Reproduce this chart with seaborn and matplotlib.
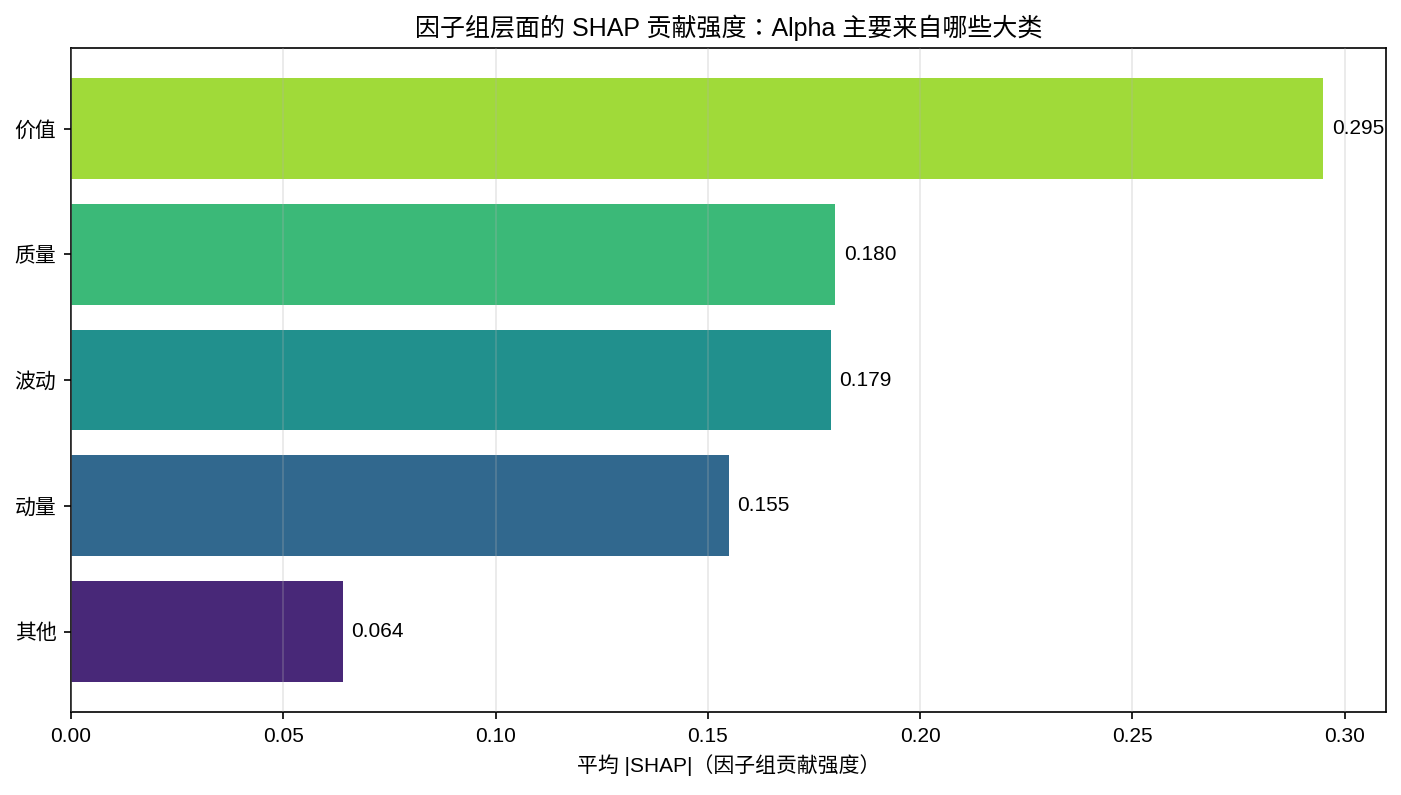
import matplotlib
matplotlib.use("Agg")
import matplotlib.pyplot as plt
import seaborn as sns
import pandas as pd

plt.rcParams['font.family'] = ['Liberation Sans', 'Noto Sans CJK TC', 'DejaVu Sans']
plt.rcParams['axes.unicode_minus'] = False

groups = ["价值", "质量", "波动", "动量", "其他"]
values = [0.295, 0.180, 0.179, 0.155, 0.064]
colors = ["#a0da39", "#3bb978", "#21908d", "#31688e", "#482878"]

df = pd.DataFrame({"group": groups, "value": values})

DPI = 150
fig, ax = plt.subplots(figsize=(1401 / DPI, 795 / DPI), dpi=DPI)
sns.barplot(data=df, x="value", y="group", hue="group", palette=colors,
            legend=False, orient="h", width=0.8, saturation=1, ax=ax)

n = len(groups)
ax.set_ylim(n - 1 + 0.4 + 0.24, -0.4 - 0.24)
ax.set_xlim(0, max(values) * 1.05)

for i, v in enumerate(values):
    ax.text(v + 0.002, i, f"{v:.3f}", va="center", ha="left", fontsize=10)

ax.grid(axis="x", alpha=0.3)
ax.set_axisbelow(False)
ax.set_ylabel("")
ax.set_xlabel("平均 |SHAP|（因子组贡献强度）", fontsize=10)
ax.set_title("因子组层面的 SHAP 贡献强度：Alpha 主要来自哪些大类", fontsize=12)
ax.tick_params(axis="both", labelsize=10)

fig.subplots_adjust(left=0.0507, right=0.9893, top=0.9396, bottom=0.1044)
fig.savefig("out.png", dpi=DPI)
